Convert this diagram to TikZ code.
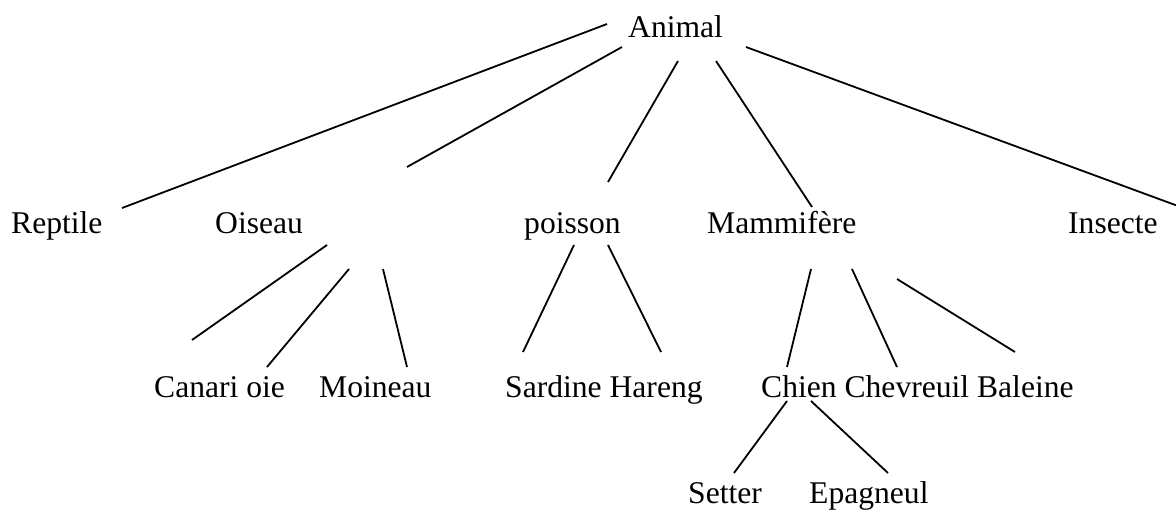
\documentclass[tikz,border=0pt]{standalone}
\usepackage{fontspec}
\setmainfont{Liberation Serif}
\begin{document}
\begin{tikzpicture}[x=1pt,y=-1pt,
  lbl/.style={anchor=base west,inner sep=0pt,font=\fontsize{31.6}{37}\selectfont},
  edge/.style={line width=1.8pt}]
\useasboundingbox (0,0) rectangle (1176,509);
% labels
\node[lbl] (animal) at (628,37) {Animal};
\node[lbl] (reptile) at (11,233) {Reptile};
\node[lbl] (oiseau) at (215,233) {Oiseau};
\node[lbl] (poisson) at (524,233) {poisson};
\node[lbl] (mammifere) at (707,233) {Mammifère};
\node[lbl] (insecte) at (1068,233) {Insecte};
\node[lbl] (canari) at (154,397) {Canari oie};
\node[lbl] (moineau) at (319,397) {Moineau};
\node[lbl] (sardine) at (505,397) {Sardine Hareng};
\node[lbl] (chien) at (761,397) {Chien Chevreuil Baleine};
\node[lbl] (setter) at (688,503) {Setter};
\node[lbl] (epagneul) at (809,503) {Epagneul};
% connector end points
\coordinate (a1) at (607,24);  \coordinate (r1) at (122,208);
\coordinate (a2) at (622,47);  \coordinate (o1) at (407,167);
\coordinate (a3) at (678,61);  \coordinate (p1) at (608,182);
\coordinate (a4) at (716,61);  \coordinate (m1) at (812,207);
\coordinate (a5) at (746,47);  \coordinate (i1) at (1178,206);
\coordinate (o2) at (327,245); \coordinate (c1) at (192,340);
\coordinate (o3) at (349,269); \coordinate (c2) at (267,367);
\coordinate (o4) at (383,269); \coordinate (mo1) at (407,367);
\coordinate (p2) at (574,245); \coordinate (s1) at (523,352);
\coordinate (p3) at (608,245); \coordinate (h1) at (661,352);
\coordinate (m2) at (811,269); \coordinate (ch1) at (787,367);
\coordinate (m3) at (852,269); \coordinate (cv1) at (897,367);
\coordinate (m4) at (897,279); \coordinate (b1) at (1015,352);
\coordinate (ch2) at (787,401); \coordinate (se1) at (734,473);
\coordinate (ch3) at (811,401); \coordinate (ep1) at (888,473);
% connectors
\draw[edge] (a1) -- (r1);
\draw[edge] (a2) -- (o1);
\draw[edge] (a3) -- (p1);
\draw[edge] (a4) -- (m1);
\draw[edge] (a5) -- (i1);
\draw[edge] (o2) -- (c1);
\draw[edge] (o3) -- (c2);
\draw[edge] (o4) -- (mo1);
\draw[edge] (p2) -- (s1);
\draw[edge] (p3) -- (h1);
\draw[edge] (m2) -- (ch1);
\draw[edge] (m3) -- (cv1);
\draw[edge] (m4) -- (b1);
\draw[edge] (ch2) -- (se1);
\draw[edge] (ch3) -- (ep1);
\end{tikzpicture}
\end{document}
